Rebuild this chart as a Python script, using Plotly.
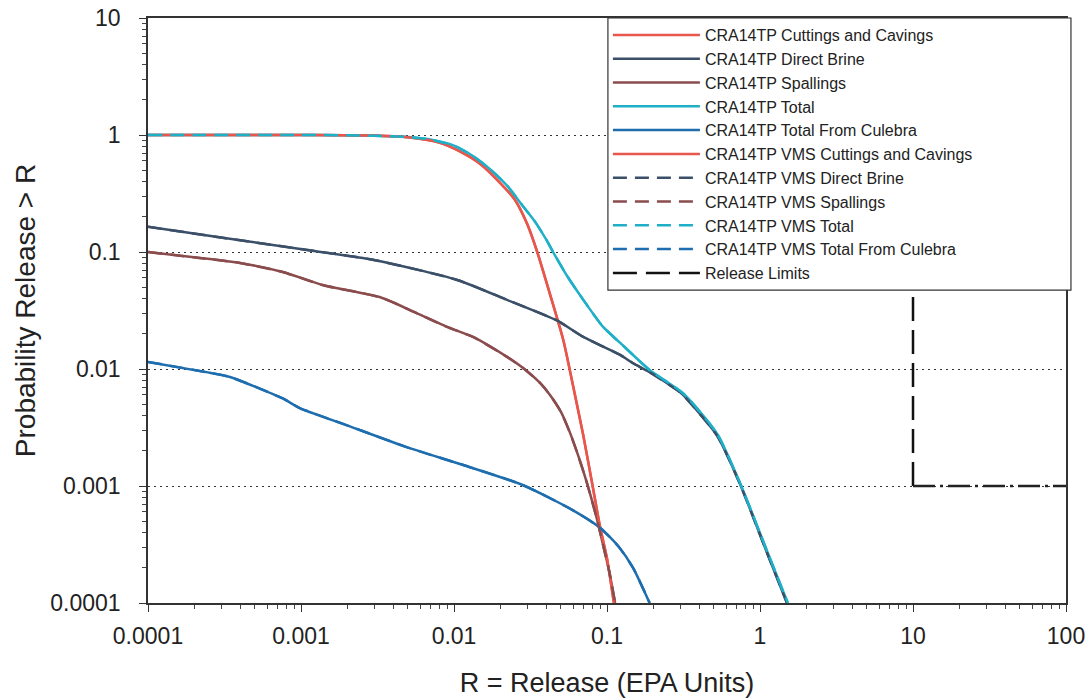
import plotly.graph_objects as go

# ---------------- data ----------------
cut_x = [0.0001, 0.001, 0.003, 0.005, 0.008, 0.011, 0.015, 0.02, 0.025, 0.03,
         0.035, 0.043, 0.0518, 0.06, 0.07, 0.08, 0.09, 0.1, 0.111]
cut_y = [1.0, 1.0, 0.99, 0.955, 0.86, 0.72, 0.56, 0.39, 0.28, 0.175,
         0.1, 0.041, 0.0177, 0.0072, 0.0027, 0.00105, 0.00045, 0.00024, 0.0001]

db_x = [0.0001, 0.0003, 0.0011, 0.003, 0.0105, 0.0222, 0.047, 0.07, 0.122, 0.148,
        0.19, 0.287, 0.314, 0.524, 0.74, 1.11, 1.5]
db_y = [0.164, 0.133, 0.104, 0.0855, 0.0577, 0.039, 0.026, 0.0188, 0.0132, 0.0112,
        0.0094, 0.0066, 0.006, 0.0027, 0.00104, 0.00027, 0.0001]

spall_x = [0.0001, 0.0002, 0.0004, 0.00076, 0.0014, 0.0033, 0.0057, 0.009, 0.0133, 0.0222,
           0.028, 0.0365, 0.0424, 0.05, 0.057, 0.065, 0.074, 0.086, 0.095, 0.104, 0.113]
spall_y = [0.1, 0.09, 0.0805, 0.0675, 0.052, 0.041, 0.030, 0.0229, 0.0188, 0.0127,
           0.0103, 0.0076, 0.006, 0.0043, 0.0029, 0.0018, 0.00106, 0.00052, 0.0003, 0.00018, 0.0001]

tot_x = [0.0001, 0.001, 0.002, 0.003, 0.005, 0.007, 0.01, 0.0133, 0.0175, 0.0222,
         0.028, 0.034, 0.04, 0.0444, 0.055, 0.07, 0.094, 0.122, 0.19, 0.314,
         0.524, 0.74, 1.11, 1.52]
tot_y = [1.0, 1.0, 0.995, 0.985, 0.96, 0.915, 0.81, 0.66, 0.5, 0.37,
         0.25, 0.18, 0.128, 0.1, 0.062, 0.039, 0.023, 0.0167, 0.0098, 0.0062,
         0.0028, 0.00106, 0.00028, 0.0001]

cul_x = [0.0001, 0.00024, 0.000343, 0.00076, 0.00098, 0.002, 0.0049, 0.0115, 0.0281,
         0.06, 0.09, 0.12, 0.148, 0.19]
cul_y = [0.0115, 0.0094, 0.00855, 0.0056, 0.00464, 0.0033, 0.00215, 0.00151, 0.00102,
         0.00062, 0.00044, 0.0003, 0.0002, 0.0001]

limit_x = [1, 10, 10, 100]
limit_y = [0.1, 0.1, 0.001, 0.001]

x_tickvals = [0.0001, 0.001, 0.01, 0.1, 1, 10, 100]
x_ticktext = ["0.0001", "0.001", "0.01", "0.1", "1", "10", "100"]
y_tickvals = [0.0001, 0.001, 0.01, 0.1, 1, 10]
y_ticktext = ["0.0001", "0.001", "0.01", "0.1", "1", "10"]

# ---------------- styling ----------------
RED = "#E8564C"
SLATE = "#3B5068"
BROWN = "#8B4C4E"
CYAN = "#1FB0C8"
BLUE = "#1E6EAF"
DASH = "14px,8px"
LW = 2.5
FONT = "Liberation Sans, Arial, sans-serif"

series = [
    ("CRA14TP Cuttings and Cavings", cut_x, cut_y, RED, "solid"),
    ("CRA14TP Direct Brine", db_x, db_y, SLATE, "solid"),
    ("CRA14TP Spallings", spall_x, spall_y, BROWN, "solid"),
    ("CRA14TP Total", tot_x, tot_y, CYAN, "solid"),
    ("CRA14TP Total From Culebra", cul_x, cul_y, BLUE, "solid"),
    ("CRA14TP VMS Cuttings and Cavings", cut_x, cut_y, RED, "solid"),
    ("CRA14TP VMS Direct Brine", db_x, db_y, SLATE, DASH),
    ("CRA14TP VMS Spallings", spall_x, spall_y, BROWN, DASH),
    ("CRA14TP VMS Total", tot_x, tot_y, CYAN, DASH),
    ("CRA14TP VMS Total From Culebra", cul_x, cul_y, BLUE, DASH),
]

fig = go.Figure()
for name, xs, ys, col, dash in series:
    fig.add_trace(go.Scatter(x=xs, y=ys, mode="lines", name=name,
                             line=dict(color=col, width=LW, dash=dash, shape="spline",
                                       smoothing=0.6)))

fig.add_trace(go.Scatter(x=limit_x[:3], y=limit_y[:3], mode="lines", name="Release Limits",
                         line=dict(color="#111111", width=2.5, dash="24px,9px")))
fig.add_trace(go.Scatter(x=limit_x[2:], y=limit_y[2:], mode="lines", showlegend=False,
                         line=dict(color="#222222", width=2.5, dash="22px,5px,3px,5px")))

axis_common = dict(
    type="log", automargin=False,
    showline=True, linecolor="#333333", linewidth=1.5, mirror=True,
    ticks="outside", ticklen=7, tickwidth=1.2, tickcolor="#333333",
    tickmode="array",
    tickfont=dict(family=FONT, size=23, color="#222222"),
    minor=dict(ticks="outside", ticklen=4, tickwidth=1, tickcolor="#444444",
               dtick="D1", showgrid=False),
    zeroline=False,
)

fig.update_xaxes(**axis_common, range=[-4, 2], tickvals=x_tickvals, ticktext=x_ticktext,
                 showgrid=False, ticklabelstandoff=5,
                 title=dict(text="R = Release (EPA Units)", standoff=25,
                            font=dict(family=FONT, size=27, color="#222222")))
fig.update_yaxes(**axis_common, range=[-4, 1], tickvals=y_tickvals, ticktext=y_ticktext,
                 showgrid=True, gridcolor="#333333", gridwidth=1, griddash="2px,4px",
                 ticklabelstandoff=14,
                 title=dict(text="Probability Release > R", standoff=6,
                            font=dict(family=FONT, size=28, color="#222222")))

# Legend frame (the legend box in the reference is wider than its text)
fig.add_shape(type="rect", xref="paper", yref="paper",
              x0=0.501, x1=1.0054, y0=0.535, y1=1.0,
              fillcolor="white", line=dict(color="#333333", width=1.2), layer="above")

fig.update_layout(
    width=1090, height=699,
    margin=dict(l=148, r=24, t=18, b=96, autoexpand=False),
    paper_bgcolor="white", plot_bgcolor="white",
    font=dict(family=FONT, color="#222222"),
    legend=dict(x=0.501, xanchor="left", y=1.0, yanchor="top",
                bgcolor="rgba(0,0,0,0)", borderwidth=0,
                font=dict(family=FONT, size=16, color="#222222"),
                itemwidth=87, tracegroupgap=0),
    showlegend=True,
)

fig.write_html("out.html", config={"displayModeBar": False},
               post_script="document.body.style.margin='0';document.body.style.overflow='hidden';")
